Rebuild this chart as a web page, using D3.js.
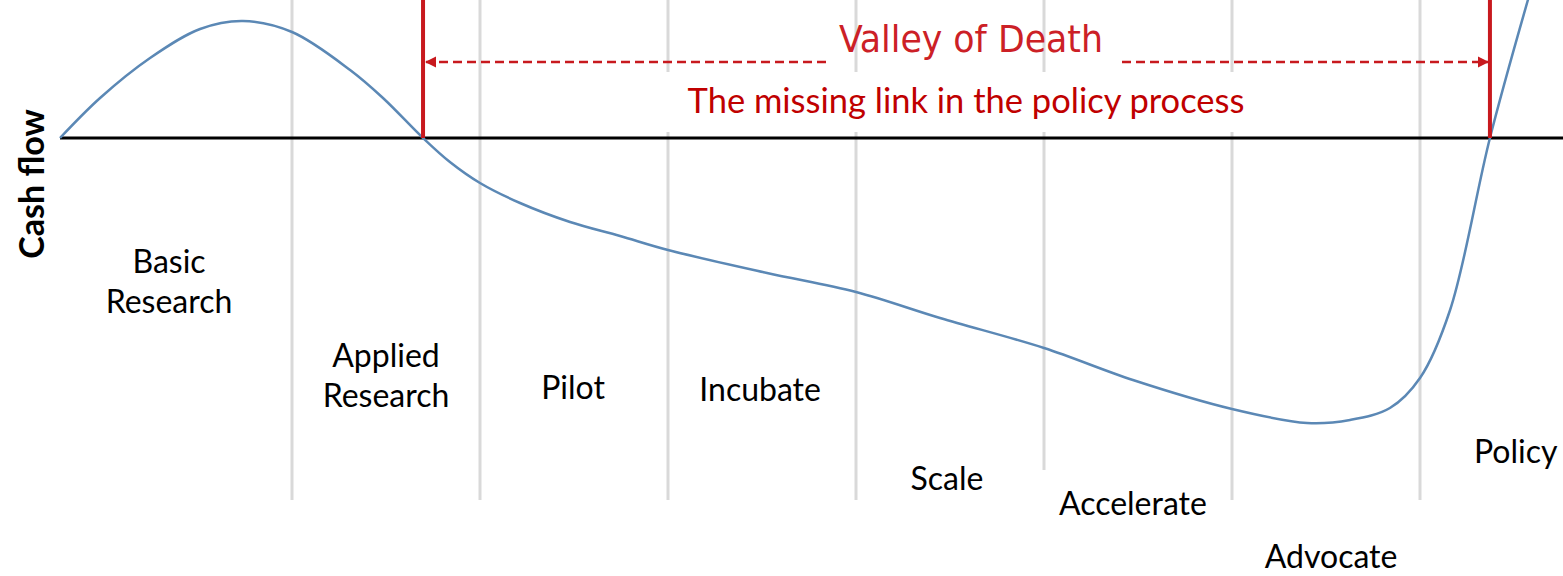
<!DOCTYPE html>
<html>
<head>
<meta charset="utf-8">
<script src="https://cdn.jsdelivr.net/npm/d3@7"></script>
<style>
  html, body { margin: 0; padding: 0; background: #fff; }
  svg { display: block; }
</style>
</head>
<body>
<script>
// stage boundaries (in stage units) where the grey dividers sit
const stageBounds = [1, 2, 3, 4, 5, 6, 7];

// cash flow curve, x in stage units, y in cash-flow units (0 = break even)
const curveStage = [-0.234, -0.021, 0.245, 0.511, 0.739, 1.0, 1.309, 1.484, 1.697, 1.840, 2.0, 2.213, 2.479, 2.745, 3.0, 3.527, 4.0, 4.447, 5.0, 5.473, 6.0, 6.399, 6.628, 6.840, 7.0, 7.160, 7.372, 7.574, 7.64];
const curveCash  = [0, 4.0, 8.0, 10.9, 11.7, 10.6, 6.8, 4.0, 0, -2.4, -4.5, -6.5, -8.4, -9.8, -11.2, -13.5, -15.4, -18.0, -21.0, -24.2, -27.1, -28.5, -28.2, -27.0, -24.0, -17.2, 0, 13.8, 18];

// stage names
const stageNames = [['Basic', 'Research'], ['Applied', 'Research'], ['Pilot'], ['Incubate'], ['Scale'], ['Accelerate'], ['Advocate'], ['Policy']];
// where the valley starts and ends (stage units)
const valleyStart = 1.697;
const valleyEnd = 7.372;

const titleText = 'Valley of Death';
const subtitleText = 'The missing link in the policy process';
const yLabel = 'Cash flow';

const width = 1563, height = 576;
const svg = d3.select('body').append('svg')
    .attr('width', width)
    .attr('height', height);

const x = d3.scaleLinear().domain([0, 8]).range([104, 1608]);
const y = d3.scaleLinear().domain([-43.8, 13.8]).range([576, 0]);

// label layout: anchor x in stage units, baseline y in px, anchor
const labelLayout = [
    {sx: 0.346, ys: [273, 313], anchor: 'middle'},
    {sx: 1.5,   ys: [367, 407], anchor: 'middle'},
    {sx: 2.495, ys: [399], anchor: 'middle'},
    {sx: 3.49,  ys: [401], anchor: 'middle'},
    {sx: 4.484, ys: [490], anchor: 'middle'},
    {sx: 5.473, ys: [515], anchor: 'middle'},
    {sx: 6.527, ys: [568], anchor: 'middle'},
    {sx: 7.287, ys: [463], anchor: 'start'}
];

// grey stage dividers
svg.append('g')
    .selectAll('line')
    .data(stageBounds)
    .enter().append('line')
    .attr('x1', d => x(d)).attr('x2', d => x(d))
    .attr('y1', 0).attr('y2', 500)
    .style('stroke', '#d9d9d9')
    .style('stroke-width', 3);

// white boxes behind some text (they hide the dividers)
svg.append('rect').attr('x', 492).attr('y', 72).attr('width', 770).attr('height', 60).style('fill', '#fff');
svg.append('rect').attr('x', 1038).attr('y', 470).attr('width', 192).attr('height', 60).style('fill', '#fff');

// break-even axis
svg.append('line')
    .attr('x1', x(curveStage[0])).attr('x2', width)
    .attr('y1', y(0)).attr('y2', y(0))
    .style('stroke', '#000')
    .style('stroke-width', 3);

// the curve
const pts = curveStage.map((s, i) => [s, curveCash[i]]);
const line = d3.line()
    .x(d => x(d[0]))
    .y(d => y(d[1]))
    .curve(d3.curveCatmullRom.alpha(0.5));
svg.append('path')
    .datum(pts)
    .attr('d', line)
    .style('fill', 'none')
    .style('stroke', '#5b88b5')
    .style('stroke-width', 2.5);

// arrow markers
const red = '#c8191e';
const defs = svg.append('defs');
defs.append('marker')
    .attr('id', 'arrow')
    .attr('viewBox', '0 0 10 10')
    .attr('refX', 9).attr('refY', 5)
    .attr('markerWidth', 4.5).attr('markerHeight', 4.5)
    .attr('orient', 'auto-start-reverse')
    .append('path')
    .attr('d', 'M0,0L10,5L0,10z')
    .style('fill', red);

// red valley bounds
svg.append('g')
    .selectAll('line')
    .data([valleyStart, valleyEnd])
    .enter().append('line')
    .attr('x1', d => x(d)).attr('x2', d => x(d))
    .attr('y1', 0).attr('y2', y(0))
    .style('stroke', red)
    .style('stroke-width', 4);

// dashed arrows
const arrowY = 62;
svg.append('line')
    .attr('x1', 826).attr('x2', x(valleyStart) + 3)
    .attr('y1', arrowY).attr('y2', arrowY)
    .style('stroke', red).style('stroke-width', 2.5)
    .style('stroke-dasharray', '9,5')
    .attr('marker-end', 'url(#arrow)');
svg.append('line')
    .attr('x1', 1122).attr('x2', x(valleyEnd) - 2)
    .attr('y1', arrowY).attr('y2', arrowY)
    .style('stroke', red).style('stroke-width', 2.5)
    .style('stroke-dasharray', '9,5')
    .attr('marker-end', 'url(#arrow)');

// titles
svg.append('text')
    .attr('x', 839).attr('y', 52)
    .attr('textLength', 264)
    .attr('lengthAdjust', 'spacingAndGlyphs')
    .style('font-family', '"DejaVu Sans Condensed", "DejaVu Sans", sans-serif')
    .style('font-size', '38px')
    .style('fill', '#cc2026')
    .text(titleText);

svg.append('text')
    .attr('x', 966).attr('y', 113)
    .attr('text-anchor', 'middle')
    .style('font-family', 'Lato, sans-serif')
    .style('font-size', '34.5px')
    .style('fill', '#c00000')
    .text(subtitleText);

// y label
svg.append('text')
    .attr('transform', 'translate(44,184) rotate(-90)')
    .attr('text-anchor', 'middle')
    .style('font-family', 'Lato, sans-serif')
    .style('font-weight', 'bold')
    .style('font-size', '34px')
    .style('fill', '#000')
    .text(yLabel);

// stage labels
const lg = svg.append('g')
    .style('font-family', 'Lato, sans-serif')
    .style('font-size', '32px')
    .style('fill', '#000');
stageNames.forEach((lines, i) => {
    const lay = labelLayout[i];
    lines.forEach((t, j) => {
        lg.append('text')
            .attr('x', x(lay.sx))
            .attr('y', lay.ys[j])
            .attr('text-anchor', lay.anchor)
            .text(t);
    });
});
</script>
</body>
</html>
